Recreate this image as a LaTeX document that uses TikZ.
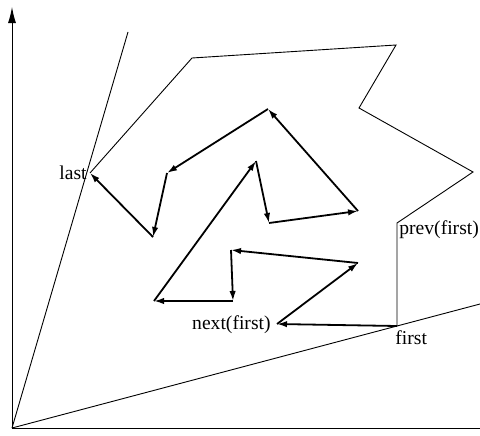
\documentclass[tikz,border=0pt]{standalone}
\usepackage{fontspec}
\setmainfont{Liberation Serif}
\usetikzlibrary{arrows.meta}

\begin{document}
\begin{tikzpicture}[x=0.5pt,y=0.5pt,inner sep=1pt,
  thin line/.style={line width=0.45pt},
  chain/.style={line width=0.9pt,-{Latex[length=5pt,width=3.2pt]}},
  every node/.style={font=\fontsize{9.8}{11}\selectfont}]
\useasboundingbox (0,0) rectangle (480,435);
% axes and rays
\coordinate (o) at (12,7);
\coordinate (ytop) at (12,428);
\coordinate (xend) at (480,7);
\coordinate (r1) at (128,403);
\coordinate (r2) at (480,131);
\draw[line width=0.5pt,-{Latex[length=8pt,width=4pt]}] (o) -- (ytop);
\draw[line width=0.5pt] (o) -- (xend);
\draw[thin line] (o) -- (r1);
\draw[thin line] (o) -- (r2);

% outer polygon
\coordinate (f) at (397,109);
\coordinate (p1) at (397,212);
\coordinate (p2) at (473,263);
\coordinate (p3) at (359,327);
\coordinate (p4) at (396,390);
\coordinate (p5) at (192,377);
\coordinate (l) at (90,262);
\draw[thin line] (f) -- (p1) -- (p2) -- (p3) -- (p4) -- (p5) -- (l);

% inner chain
\coordinate (n1) at (277,111);
\coordinate (n2) at (358,172);
\coordinate (n3) at (231,185);
\coordinate (n4) at (233,134);
\coordinate (n5) at (154,134);
\coordinate (n6) at (256,274);
\coordinate (n7) at (269,212);
\coordinate (n8) at (358,224);
\coordinate (n9) at (268,326);
\coordinate (n10) at (167,262);
\coordinate (n11) at (153,198);
\draw[chain] (f) -- (n1);
\draw[chain] (n1) -- (n2);
\draw[chain] (n2) -- (n3);
\draw[chain] (n3) -- (n4);
\draw[chain] (n4) -- (n5);
\draw[chain] (n5) -- (n6);
\draw[chain] (n6) -- (n7);
\draw[chain] (n7) -- (n8);
\draw[chain] (n8) -- (n9);
\draw[chain] (n9) -- (n10);
\draw[chain] (n10) -- (n11);
\draw[chain] (n11) -- (l);

% labels
\node[anchor=east] (llast) at (89,262) {last};
\node[anchor=west] (lprev) at (397,205) {prev(first)};
\node[anchor=west] (lfirst) at (393,97) {first};
\node[anchor=east] (lnext) at (273,110) {next(first)};
\end{tikzpicture}
\end{document}
